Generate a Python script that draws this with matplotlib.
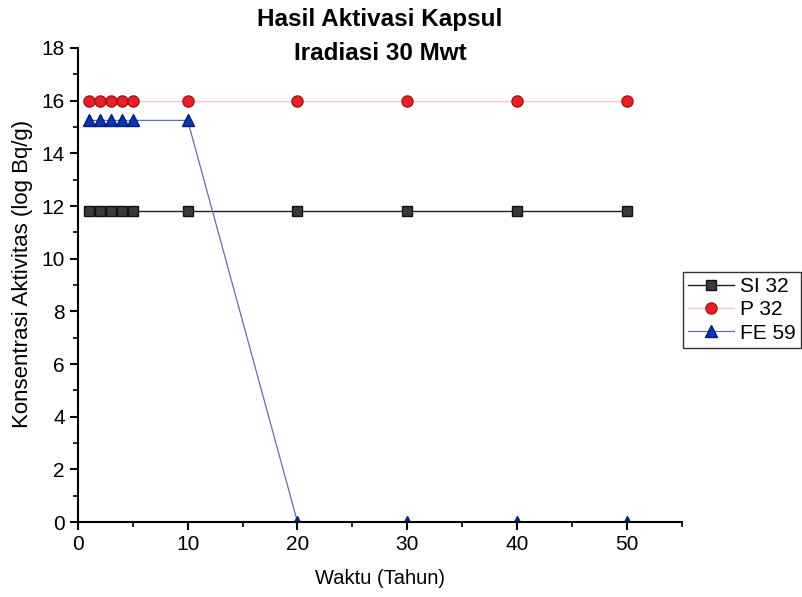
import matplotlib
matplotlib.use('Agg')
import matplotlib.pyplot as plt
from matplotlib.ticker import MultipleLocator

plt.rcParams['font.family'] = ['Liberation Sans', 'DejaVu Sans']

waktu = [1, 2, 3, 4, 5, 10, 20, 30, 40, 50]
si32 = [11.8, 11.8, 11.8, 11.8, 11.8, 11.8, 11.8, 11.8, 11.8, 11.8]
p32 = [16, 16, 16, 16, 16, 16, 16, 16, 16, 16]
fe59 = [15.25, 15.25, 15.25, 15.25, 15.25, 15.25, 0, 0, 0, 0]

fig = plt.figure(figsize=(8.03, 5.97), dpi=100)
ax = fig.add_axes([0.097, 0.1256, 0.752, 0.794])

ax.plot(waktu, si32, color='#222222', lw=1, marker='s', ms=7.4,
        mfc='#3a3a3a', mec='#111111', label='SI 32')
ax.plot(waktu, p32, color='#f0c8c8', lw=1, marker='o', ms=8,
        mfc='#e8202a', mec='#b01010', label='P 32')
ax.plot(waktu, fe59, color='#6070a8', lw=0.9, marker='^', ms=9,
        mfc='#0838b0', mec='#001a80', label='FE 59')

ax.set_xlim(0, 55)
ax.set_ylim(0, 18)
ax.xaxis.set_major_locator(MultipleLocator(10))
ax.xaxis.set_minor_locator(MultipleLocator(5))
ax.yaxis.set_major_locator(MultipleLocator(2))
ax.yaxis.set_minor_locator(MultipleLocator(1))
ax.spines['top'].set_visible(False)
ax.spines['right'].set_visible(False)
ax.spines['left'].set_linewidth(1.5)
ax.spines['bottom'].set_linewidth(1.5)
ax.tick_params(which='major', length=6, width=1.5, labelsize=15, direction='out')
ax.tick_params(which='minor', length=3.5, width=1.2, direction='out')

# judul dan label sumbu
fig.text(0.473, 0.939, 'Hasil Aktivasi Kapsul\nIradiasi 30 Mwt', fontsize=17.5,
         fontweight='bold', ha='center', va='center', linespacing=1.6)
fig.text(0.473, 0.031, 'Waktu (Tahun)', fontsize=14.5, ha='center', va='center')
fig.text(0.028, 1 - 274 / 597, 'Konsentrasi Aktivitas (log Bq/g)', fontsize=16,
         rotation=90, ha='center', va='center')

leg = ax.legend(loc='upper left', bbox_to_anchor=(683 / 803, 1 - 272 / 597),
                bbox_transform=fig.transFigure, fontsize=15,
                frameon=True, fancybox=False, edgecolor='#000000',
                handlelength=2.2, borderaxespad=0, labelspacing=0.2,
                handletextpad=0.3, borderpad=0.25)
leg.get_frame().set_linewidth(1)

fig.savefig('out.png', dpi=100)
